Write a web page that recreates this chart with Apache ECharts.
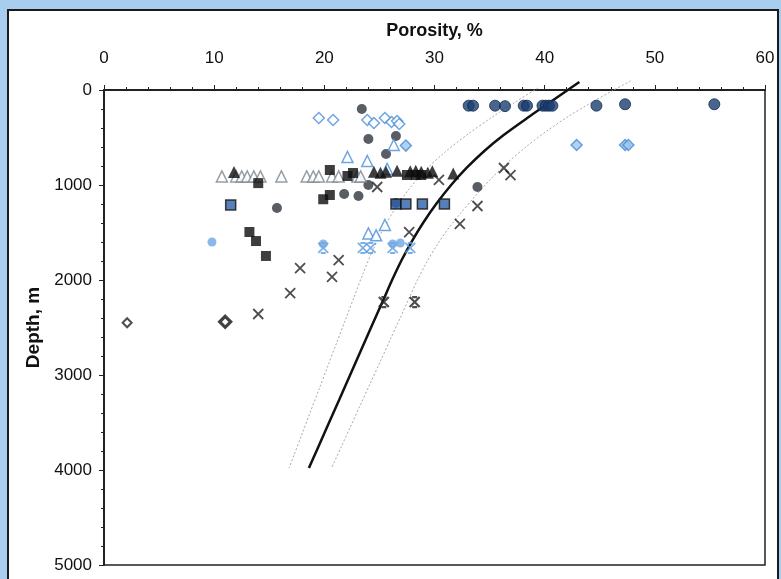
<!DOCTYPE html>
<html>
<head>
<meta charset="utf-8">
<script src="https://cdn.jsdelivr.net/npm/echarts@6/dist/echarts.min.js"></script>
<style>
  html, body { margin: 0; padding: 0; background: #a9cdee; }
  #chart { width: 781px; height: 579px; }
</style>
</head>
<body>
<div id="chart"></div>
<script>
// Porosity (%) versus depth (m) — each point is [porosity, depth]

// Compaction trend (solid) and its envelope (dotted)
const trendMain = [[43.15,-84],[42.1,0],[40.39,137],[38.68,274],[36.28,474],[34.52,642],[32.91,821],[31.51,1000],[30.15,1200],[29.02,1389],[28.01,1579],[27.02,1789],[26.15,2000],[25.35,2211],[24.34,2474],[23.34,2737],[22.34,3000],[21.34,3263],[20.33,3526],[19.33,3789],[18.6,3979]];
const trendLow = [[39.4,-21],[37.34,126],[35.11,295],[32.93,474],[30.96,653],[29.2,842],[27.62,1053],[26.36,1263],[25.3,1474],[24.33,1705],[23.46,1947],[22.67,2189],[21.91,2421],[21.11,2663],[20.32,2905],[19.53,3147],[18.73,3389],[17.94,3632],[17.25,3842],[16.8,3979]];
const trendHigh = [[47.8,-95],[46.1,11],[44.03,147],[42.21,274],[40.19,432],[38.29,600],[36.61,768],[35.03,947],[33.63,1126],[32.38,1295],[31.23,1463],[30.23,1632],[29.3,1811],[28.45,2000],[27.71,2189],[26.88,2400],[26.01,2621],[25.1,2853],[24.14,3095],[23.23,3326],[22.36,3547],[21.53,3758],[20.7,3968]];

// Sample groups
const navyCircles = [[33.1,165],[33.5,165],[35.5,165],[36.4,170],[38.1,165],[38.4,165],[39.8,165],[40.1,165],[40.4,165],[40.7,165],[44.7,165],[47.3,150],[55.4,150]];
const greyCircles = [[23.4,200],[24.0,516],[26.5,484],[25.6,674],[24.0,1000],[21.8,1095],[23.1,1116],[33.9,1021],[15.7,1242],[26.5,1190]];
const blueOpenDiamonds = [[19.5,295],[20.8,316],[23.9,316],[24.5,347],[25.5,295],[26.1,337],[26.6,326],[26.8,358]];
const blueFilledDiamonds = [[27.4,585],[42.9,579],[47.3,579],[47.6,579]];
const blueOpenTriangles = [[22.1,705],[26.3,579],[23.9,747],[25.7,831],[24.0,1510],[24.7,1530],[25.5,1421]];
const greyOpenTriangles = [[10.7,910],[12.0,910],[12.5,910],[13.0,910],[13.6,910],[14.2,910],[16.1,910],[18.4,910],[19.0,910],[19.5,910],[20.7,910],[21.3,910],[23.0,910],[23.3,910]];
const blackTriangles = [[11.8,863],[24.5,860],[25.1,870],[25.6,860],[26.6,850],[27.8,855],[28.3,850],[28.8,860],[29.4,870],[29.8,855],[31.7,880]];
const blackSquares = [[14.0,980],[13.2,1495],[13.8,1590],[14.7,1747],[20.5,842],[19.9,1150],[20.5,1105],[22.1,905],[22.6,874],[27.5,895],[28.3,895],[28.8,895]];
const blueSquares = [[11.5,1210],[26.5,1200],[27.4,1200],[28.9,1200],[30.9,1200]];
const blackCrosses = [[24.8,1021],[30.4,947],[36.3,821],[36.9,895],[33.9,1221],[32.3,1410],[27.7,1495],[21.3,1790],[17.8,1874],[20.7,1968],[16.9,2137],[14.0,2358]];
const darkStars = [[25.4,2232],[28.2,2232]];
const blueStars = [[19.9,1663],[23.5,1663],[24.2,1663],[26.2,1663],[27.8,1663]];
const blueDots = [[9.8,1600],[19.9,1620],[26.2,1620],[26.9,1610]];
const openDiamondThin = [[2.1,2450]];
const openDiamondBold = [[11.0,2440]];

const FONT = '"Liberation Sans", Arial, sans-serif';
const CROSS = 'path://M0,0L10,10M10,0L0,10';
const STAR = 'path://M0,0L10,10M10,0L0,10M2.5,0L7.5,0M2.5,10L7.5,10';

function scatter(name, data, symbol, size, style, z) {
  return { name, type: 'scatter', data, symbol, symbolSize: size, itemStyle: style, z: z || 3 };
}
function curve(data, style) {
  return { type: 'line', data, smooth: 0.3, symbol: 'none', clip: false, lineStyle: style, z: 2, silent: true };
}

const chart = echarts.init(document.getElementById('chart'), null, { renderer: 'canvas' });
chart.setOption({
  backgroundColor: 'transparent',
  animation: false,
  graphic: [{
    type: 'rect', z: -10, silent: true,
    shape: { x: 8, y: 10, width: 770, height: 575 },
    style: { fill: '#ffffff', stroke: '#1a1a1a', lineWidth: 2 }
  }],
  grid: { left: 104, right: 16, top: 90, bottom: 14, show: true, borderColor: '#222', borderWidth: 1.5, backgroundColor: 'transparent' },
  xAxis: {
    type: 'value', position: 'top', min: 0, max: 60, interval: 10,
    name: 'Porosity, %', nameLocation: 'middle', nameGap: 50,
    nameTextStyle: { fontFamily: FONT, fontSize: 18, fontWeight: 'bold', color: '#111' },
    axisLine: { show: true, lineStyle: { color: '#222', width: 2 } },
    axisTick: { show: true, length: 5, lineStyle: { color: '#222' } },
    minorTick: { show: true, splitNumber: 5, length: 3, lineStyle: { color: '#222' } },
    splitLine: { show: false },
    axisLabel: { fontFamily: FONT, fontSize: 17, color: '#111', margin: 23 }
  },
  yAxis: {
    type: 'value', inverse: true, min: 0, max: 5000, interval: 1000,
    name: 'Depth, m', nameLocation: 'middle', nameGap: 60, nameRotate: 90,
    nameTextStyle: { fontFamily: FONT, fontSize: 19, fontWeight: 'bold', color: '#111' },
    axisLine: { show: true, lineStyle: { color: '#222', width: 2 } },
    axisTick: { show: true, length: 5, lineStyle: { color: '#222' } },
    minorTick: { show: true, splitNumber: 5, length: 3, lineStyle: { color: '#222' } },
    splitLine: { show: false },
    axisLabel: { fontFamily: FONT, fontSize: 17, color: '#111', margin: 12, formatter: v => String(v) }
  },
  series: [
    curve(trendLow, { color: '#a8a8a8', width: 1, type: [2, 2] }),
    curve(trendHigh, { color: '#a8a8a8', width: 1, type: [2, 2] }),
    curve(trendMain, { color: '#111', width: 2.5 }),
    scatter('navy', navyCircles, 'circle', 11, { color: '#1a3f72', borderColor: '#10294d', borderWidth: 1 }),
    scatter('grey', greyCircles, 'circle', 10, { color: '#2f343d' }),
    scatter('openDia', blueOpenDiamonds, 'diamond', 11, { color: '#fff', borderColor: '#4b8fd8', borderWidth: 1.5 }),
    scatter('fillDia', blueFilledDiamonds, 'diamond', 11, { color: '#9cc8f0', borderColor: '#4a8ad2', borderWidth: 1.5 }),
    scatter('openTri', blueOpenTriangles, 'triangle', 11, { color: '#fff', borderColor: '#4b8fd8', borderWidth: 1.5 }),
    scatter('greyTri', greyOpenTriangles, 'triangle', 11, { color: '#fff', borderColor: '#7a8590', borderWidth: 1.5 }),
    scatter('blackTri', blackTriangles, 'triangle', 12, { color: '#0d0d0d' }, 4),
    scatter('blackSq', blackSquares, 'rect', 10, { color: '#0d0d0d' }, 4),
    scatter('blueSq', blueSquares, 'rect', 10, { color: '#2d60a6', borderColor: '#111', borderWidth: 1.5 }),
    scatter('cross', blackCrosses, CROSS, 10, { color: 'transparent', borderColor: '#222', borderWidth: 1.8 }),
    scatter('darkStar', darkStars, STAR, 10, { color: 'transparent', borderColor: '#222', borderWidth: 2.2 }),
    scatter('blueStar', blueStars, STAR, 10, { color: 'transparent', borderColor: '#5b9be0', borderWidth: 1.8 }),
    scatter('blueDot', blueDots, 'circle', 9, { color: '#6fa6e2' }),
    scatter('diaThin', openDiamondThin, 'diamond', 9, { color: '#fff', borderColor: '#222', borderWidth: 2 }),
    scatter('diaBold', openDiamondBold, 'diamond', 11, { color: '#fff', borderColor: '#111', borderWidth: 3.2 })
  ]
});
</script>
</body>
</html>
